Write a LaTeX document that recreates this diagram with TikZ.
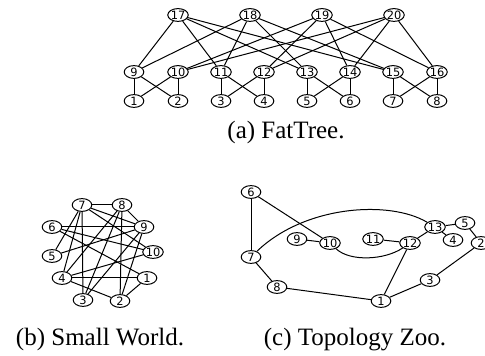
\documentclass[tikz,border=0pt]{standalone}
\usepackage{fontspec}
\setmainfont{Liberation Serif}
\newfontfamily\nodefont{DejaVu Sans}
\usetikzlibrary{shapes.geometric}

\begin{document}
\begin{tikzpicture}[x=0.5pt, y=-0.5pt]
    \tikzstyle{vertex}=[ellipse, draw, line width=0.5pt, inner sep=0pt,
    minimum width=9.8pt, minimum height=6.4pt, font=\nodefont\fontsize{5.7}{6}\selectfont]
    \tikzstyle{link}=[line width=0.5pt]
    \tikzstyle{caption}=[anchor=base, font=\fontsize{12.5}{15}\selectfont]

    \useasboundingbox (0, 0) rectangle (485, 356);

    % FatTree: core switches
    \node [vertex] (f17) at (178, 15) {17};
    \node [vertex] (f18) at (250, 15) {18};
    \node [vertex] (f19) at (322, 15) {19};
    \node [vertex] (f20) at (394, 15) {20};
    % FatTree: aggregation switches
    \node [vertex] (f9)  at (134, 72) {9};
    \node [vertex] (f10) at (178, 72) {10};
    \node [vertex] (f11) at (221, 72) {11};
    \node [vertex] (f12) at (264, 72) {12};
    \node [vertex] (f13) at (307, 72) {13};
    \node [vertex] (f14) at (350, 72) {14};
    \node [vertex] (f15) at (393, 72) {15};
    \node [vertex] (f16) at (437, 72) {16};
    % FatTree: edge switches
    \node [vertex] (f1) at (134, 101) {1};
    \node [vertex] (f2) at (178, 101) {2};
    \node [vertex] (f3) at (221, 101) {3};
    \node [vertex] (f4) at (264, 101) {4};
    \node [vertex] (f5) at (307, 101) {5};
    \node [vertex] (f6) at (350, 101) {6};
    \node [vertex] (f7) at (393, 101) {7};
    \node [vertex] (f8) at (437, 101) {8};

    % FatTree: core to aggregation
    \draw [link] (f17) -- (f9);
    \draw [link] (f17) -- (f11);
    \draw [link] (f17) -- (f13);
    \draw [link] (f17) -- (f15);
    \draw [link] (f18) -- (f9);
    \draw [link] (f18) -- (f11);
    \draw [link] (f18) -- (f13);
    \draw [link] (f18) -- (f15);
    \draw [link] (f19) -- (f10);
    \draw [link] (f19) -- (f12);
    \draw [link] (f19) -- (f14);
    \draw [link] (f19) -- (f16);
    \draw [link] (f20) -- (f10);
    \draw [link] (f20) -- (f12);
    \draw [link] (f20) -- (f14);
    \draw [link] (f20) -- (f16);
    % FatTree: aggregation to edge
    \draw [link] (f9) -- (f1);
    \draw [link] (f9) -- (f2);
    \draw [link] (f10) -- (f1);
    \draw [link] (f10) -- (f2);
    \draw [link] (f11) -- (f3);
    \draw [link] (f11) -- (f4);
    \draw [link] (f12) -- (f3);
    \draw [link] (f12) -- (f4);
    \draw [link] (f13) -- (f5);
    \draw [link] (f13) -- (f6);
    \draw [link] (f14) -- (f5);
    \draw [link] (f14) -- (f6);
    \draw [link] (f15) -- (f7);
    \draw [link] (f15) -- (f8);
    \draw [link] (f16) -- (f7);
    \draw [link] (f16) -- (f8);
    % FatTree caption
    \node [caption] (capa) at (286, 139) {(a) FatTree.};

    % Small World: nodes on a circle
    \node [vertex] (s1)  at (147, 278) {1};
    \node [vertex] (s2)  at (120, 301) {2};
    \node [vertex] (s3)  at (83, 300)  {3};
    \node [vertex] (s4)  at (62, 278)  {4};
    \node [vertex] (s5)  at (52, 256)  {5};
    \node [vertex] (s6)  at (52, 227)  {6};
    \node [vertex] (s7)  at (82, 205)  {7};
    \node [vertex] (s8)  at (122, 205) {8};
    \node [vertex] (s9)  at (144, 227) {9};
    \node [vertex] (s10) at (153, 252) {10};

    % Small World: links
    \draw [link] (s7) -- (s8);
    \draw [link] (s7) -- (s9);
    \draw [link] (s7) -- (s10);
    \draw [link] (s7) -- (s5);
    \draw [link] (s7) -- (s4);
    \draw [link] (s7) -- (s3);
    \draw [link] (s8) -- (s9);
    \draw [link] (s8) -- (s2);
    \draw [link] (s8) -- (s4);
    \draw [link] (s8) -- (s3);
    \draw [link] (s6) -- (s9);
    \draw [link] (s6) -- (s10);
    \draw [link] (s6) -- (s1);
    \draw [link] (s5) -- (s9);
    \draw [link] (s4) -- (s10);
    \draw [link] (s4) -- (s1);
    \draw [link] (s4) -- (s2);
    \draw [link] (s9) -- (s3);
    \draw [link] (s9) -- (s2);
    \draw [link] (s1) -- (s2);
    % Small World caption
    \node [caption] (capb) at (100, 345) {(b) Small World.};

    % Topology Zoo: nodes
    \node [vertex] (z1)  at (381, 301) {1};
    \node [vertex] (z2)  at (481, 243) {2};
    \node [vertex] (z3)  at (430, 280) {3};
    \node [vertex] (z4)  at (453, 240) {4};
    \node [vertex] (z5)  at (465, 223) {5};
    \node [vertex] (z6)  at (251, 192) {6};
    \node [vertex] (z7)  at (251, 257) {7};
    \node [vertex] (z8)  at (277, 287) {8};
    \node [vertex] (z9)  at (297, 239) {9};
    \node [vertex] (z10) at (330, 243) {10};
    \node [vertex] (z11) at (373, 239) {11};
    \node [vertex] (z12) at (410, 243) {12};
    \node [vertex] (z13) at (435, 227) {13};

    % Topology Zoo: links
    \draw [link] (z6) -- (z7);
    \draw [link] (z6) -- (z10);
    \draw [link] (z9) -- (z10);
    \draw [link] (z11) -- (z12);
    \draw [link] (z12) -- (z13);
    \draw [link] (z13) -- (z5);
    \draw [link] (z13) -- (z4);
    \draw [link] (z5) -- (z2);
    \draw [link] (z2) -- (z3);
    \draw [link] (z3) -- (z1);
    \draw [link] (z1) -- (z12);
    \draw [link] (z1) -- (z8);
    \draw [link] (z8) -- (z7);
    % Topology Zoo: curved links
    \draw [link] (z7) .. controls (305, 205) and (390, 200) .. (z13);
    \draw [link] (z10) .. controls (350, 262) and (385, 260) .. (z12);
    % Topology Zoo caption
    \node [caption] (capc) at (355, 345) {(c) Topology Zoo.};

\end{tikzpicture}
\end{document}
